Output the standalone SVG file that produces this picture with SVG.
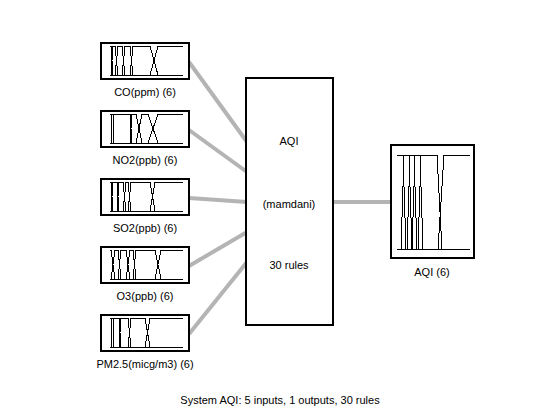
<svg xmlns="http://www.w3.org/2000/svg" width="560" height="420" viewBox="0 0 560 420">
  <style>
    .box { fill: #ffffff; stroke: #000000; stroke-width: 2; shape-rendering: crispEdges; }
    .sys { fill: #ffffff; stroke: #000000; stroke-width: 1.5; shape-rendering: crispEdges; }
    .mf { fill: none; stroke: #000000; stroke-width: 1; shape-rendering: crispEdges; }
    .conn { stroke: #b4b4b4; stroke-width: 4; fill: none; }
    text { font-family: "Liberation Sans", Arial, sans-serif; font-size: 11px; fill: #000000; text-anchor: middle; }
  </style>
  <rect width="560" height="420" fill="#ffffff"/>

  <!-- connectors: inputs to the rule block, rule block to output -->
  <g id="connectors">
    <line class="conn" x1="189" y1="62" x2="247" y2="142"/>
    <line class="conn" x1="189" y1="130" x2="247" y2="172"/>
    <line class="conn" x1="189" y1="198" x2="247" y2="202"/>
    <line class="conn" x1="189" y1="266" x2="247" y2="232"/>
    <line class="conn" x1="189" y1="334" x2="247" y2="262"/>
    <line class="conn" x1="333" y1="202" x2="391" y2="202"/>
  </g>

  <!-- input: CO -->
  <g id="in-co">
    <rect class="box" x="101" y="43" width="88" height="36"/>
    <g transform="translate(110,46)">
      <polyline class="mf" points="0,0 1,0 3,29 73,29"/>
      <polyline class="mf" points="0,29 1,29 3,0 5,0 8,29 73,29"/>
      <polyline class="mf" points="0,29 5,29 8,0 12,0 15,29 73,29"/>
      <polyline class="mf" points="0,29 12,29 15,0 20,0 23,29 73,29"/>
      <polyline class="mf" points="0,29 20,29 23,0 40,0 48,29 73,29"/>
      <polyline class="mf" points="0,29 40,29 48,0 73,0"/>
    </g>
    <text x="145" y="96">CO(ppm) (6)</text>
  </g>

  <!-- input: NO2 -->
  <g id="in-no2">
    <rect class="box" x="101" y="111" width="88" height="36"/>
    <g transform="translate(110,114)">
      <polyline class="mf" points="0,0 1,0 2,29 73,29"/>
      <polyline class="mf" points="0,29 1,29 2,0 3,0 4,29 73,29"/>
      <polyline class="mf" points="0,29 3,29 4,0 20,0 22,29 73,29"/>
      <polyline class="mf" points="0,29 20,29 22,0 26,0 32,29 73,29"/>
      <polyline class="mf" points="0,29 26,29 32,0 38,0 48,29 73,29"/>
      <polyline class="mf" points="0,29 38,29 48,0 73,0"/>
    </g>
    <text x="145" y="164">NO2(ppb) (6)</text>
  </g>

  <!-- input: SO2 -->
  <g id="in-so2">
    <rect class="box" x="101" y="179" width="88" height="36"/>
    <g transform="translate(110,182)">
      <polyline class="mf" points="0,0 1,0 3,29 73,29"/>
      <polyline class="mf" points="0,29 1,29 3,0 7,0 9,29 73,29"/>
      <polyline class="mf" points="0,29 7,29 9,0 13,0 16,29 73,29"/>
      <polyline class="mf" points="0,29 13,29 16,0 18,0 21,29 73,29"/>
      <polyline class="mf" points="0,29 18,29 21,0 40,0 45,29 73,29"/>
      <polyline class="mf" points="0,29 40,29 45,0 73,0"/>
    </g>
    <text x="145" y="232">SO2(ppb) (6)</text>
  </g>

  <!-- input: O3 -->
  <g id="in-o3">
    <rect class="box" x="101" y="247" width="88" height="36"/>
    <g transform="translate(110,250)">
      <polyline class="mf" points="0,0 1,0 5,29 73,29"/>
      <polyline class="mf" points="0,29 1,29 5,0 8,0 11,29 73,29"/>
      <polyline class="mf" points="0,29 8,29 11,0 16,0 20,29 73,29"/>
      <polyline class="mf" points="0,29 16,29 20,0 23,0 26,29 73,29"/>
      <polyline class="mf" points="0,29 23,29 26,0 45,0 51,29 73,29"/>
      <polyline class="mf" points="0,29 45,29 51,0 73,0"/>
    </g>
    <text x="145" y="300">O3(ppb) (6)</text>
  </g>

  <!-- input: PM2.5 -->
  <g id="in-pm25">
    <rect class="box" x="101" y="315" width="88" height="36"/>
    <g transform="translate(110,318)">
      <polyline class="mf" points="0,0 1,0 2,29 73,29"/>
      <polyline class="mf" points="0,29 1,29 2,0 3,0 4,29 73,29"/>
      <polyline class="mf" points="0,29 3,29 4,0 9,0 11,29 73,29"/>
      <polyline class="mf" points="0,29 9,29 11,0 18,0 21,29 73,29"/>
      <polyline class="mf" points="0,29 18,29 21,0 35,0 40,29 73,29"/>
      <polyline class="mf" points="0,29 35,29 40,0 73,0"/>
    </g>
    <text x="145" y="368">PM2.5(micg/m3) (6)</text>
  </g>

  <!-- rule block -->
  <g id="system">
    <rect class="sys" x="246" y="78" width="87" height="247"/>
    <text x="289" y="145">AQI</text>
    <text x="289" y="208">(mamdani)</text>
    <text x="289" y="269">30 rules</text>
  </g>

  <!-- output: AQI -->
  <g id="out-aqi">
    <rect class="box" x="391" y="145" width="83" height="113"/>
    <g transform="translate(397,155)">
      <polyline class="mf" points="0,0 6,0 9,94 73,94"/>
      <polyline class="mf" points="0,94 4,94 7,0 12,0 15,94 73,94"/>
      <polyline class="mf" points="0,94 10,94 13,0 17,0 20,94 73,94"/>
      <polyline class="mf" points="0,94 15,94 18,0 23,0 26,94 73,94"/>
      <polyline class="mf" points="0,94 21,94 24,0 40,0 45,94 73,94"/>
      <polyline class="mf" points="0,94 41,94 47,0 73,0"/>
    </g>
    <text x="432" y="276">AQI (6)</text>
  </g>

  <text x="280" y="404">System AQI: 5 inputs, 1 outputs, 30 rules</text>
</svg>
